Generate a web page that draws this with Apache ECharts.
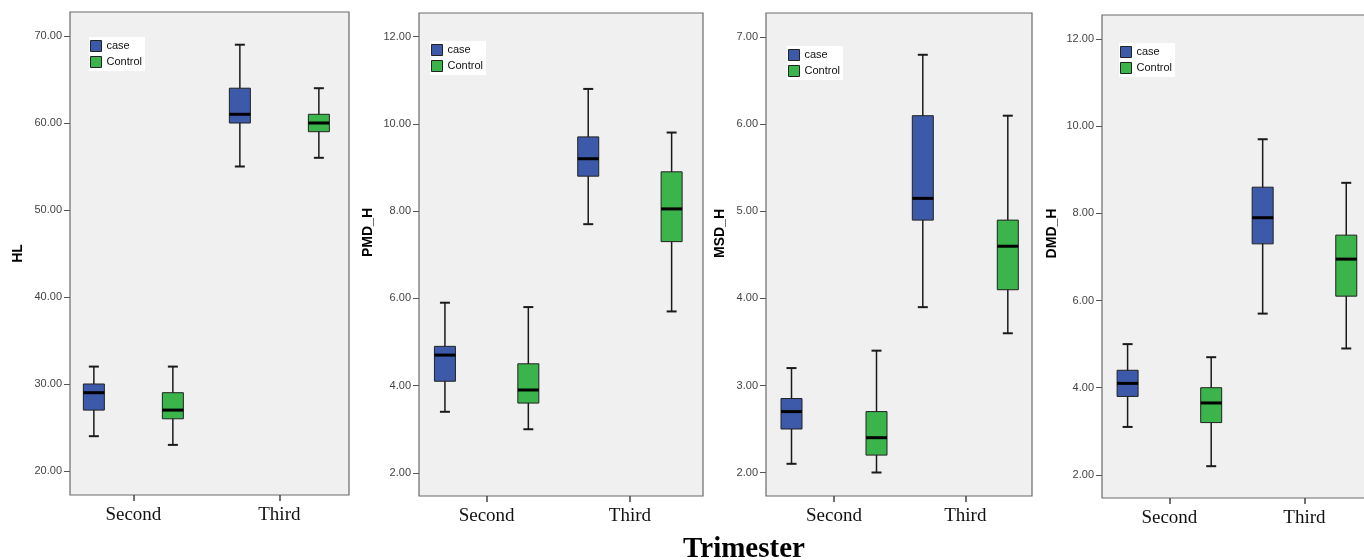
<!DOCTYPE html>
<html>
<head>
<meta charset="utf-8">
<script src="https://cdn.jsdelivr.net/npm/echarts@6/dist/echarts.min.js"></script>
<style>
  html, body { margin: 0; padding: 0; background: #fff; }
  #chart { width: 1364px; height: 560px; }
</style>
</head>
<body>
<div id="chart"></div>
<script>
// categories
const trimesters = ['Second', 'Third'];
const groups = ['case', 'Control'];

// box values per trimester: [min, Q1, median, Q3, max]
const hlCase = [[24, 27, 29, 30, 32], [55, 60, 61, 64, 69]];
const hlControl = [[23, 26, 27, 29, 32], [56, 59, 60, 61, 64]];
const pmdCase = [[3.4, 4.1, 4.7, 4.9, 5.9], [7.7, 8.8, 9.2, 9.7, 10.8]];
const pmdControl = [[3.0, 3.6, 3.9, 4.5, 5.8], [5.7, 7.3, 8.05, 8.9, 9.8]];
const msdCase = [[2.1, 2.5, 2.7, 2.85, 3.2], [3.9, 4.9, 5.15, 6.1, 6.8]];
const msdControl = [[2.0, 2.2, 2.4, 2.7, 3.4], [3.6, 4.1, 4.6, 4.9, 6.1]];
const dmdCase = [[3.1, 3.8, 4.1, 4.4, 5.0], [5.7, 7.3, 7.9, 8.6, 9.7]];
const dmdControl = [[2.2, 3.2, 3.65, 4.0, 4.7], [4.9, 6.1, 6.95, 7.5, 8.7]];

// tick labels
const hlTicks = [20, 30, 40, 50, 60, 70];
const pmdTicks = [2, 4, 6, 8, 10, 12];
const msdTicks = [2, 3, 4, 5, 6, 7];
const dmdTicks = [2, 4, 6, 8, 10, 12];

const caseColor = '#3d59a9';
const controlColor = '#3bb44b';
const sans = 'Liberation Sans, Arial, sans-serif';
const serif = 'Liberation Serif, Times New Roman, serif';

// layout of the four panels (positions are taken from the picture)
// the last panel runs past the right edge of the picture
const panels = [
  { name: 'HL', caseData: hlCase, controlData: hlControl, ticks: hlTicks,
    grid: { left: 70, top: 12, width: 279, height: 483 }, y: [17.24, 72.76], x: [0.566, 2.477],
    offset: 39.5, nameGap: 45, nameShift: 0, legend: { left: 89, top: 37 } },
  { name: 'PMD_H', caseData: pmdCase, controlData: pmdControl, ticks: pmdTicks,
    grid: { left: 419, top: 13, width: 284, height: 483 }, y: [1.47, 12.54], x: [0.528, 2.51],
    offset: 41.7, nameGap: 44, nameShift: 22, legend: { left: 430, top: 41 } },
  { name: 'MSD_H', caseData: msdCase, controlData: msdControl, ticks: msdTicks,
    grid: { left: 766, top: 13, width: 266, height: 483 }, y: [1.73, 7.28], x: [0.482, 2.508],
    offset: 42.5, nameGap: 39, nameShift: 21, legend: { left: 787, top: 46 } },
  { name: 'DMD_H', caseData: dmdCase, controlData: dmdControl, ticks: dmdTicks,
    grid: { left: 1102, top: 15, width: 270, height: 483 }, y: [1.47, 12.55], x: [0.501, 2.5],
    offset: 41.8, nameGap: 43, nameShift: 23, legend: { left: 1119, top: 43 } }
];

// draws one box-and-whisker through the axis scales
function renderBox(offset, color) {
  return function (params, api) {
    const x = api.value(0);
    const pts = [1, 2, 3, 4, 5].map(i => api.coord([x, api.value(i)]));
    const cx = pts[0][0] + offset;
    const [yMin, yQ1, yMed, yQ3, yMax] = pts.map(p => p[1]);
    const bw = 21, cw = 10;
    const ink = '#1a1a1a';
    return {
      type: 'group',
      children: [
        { type: 'line', shape: { x1: cx, y1: yMax, x2: cx, y2: yMin }, style: { stroke: ink, lineWidth: 1.5 } },
        { type: 'line', shape: { x1: cx - cw / 2, y1: yMax, x2: cx + cw / 2, y2: yMax }, style: { stroke: ink, lineWidth: 2 } },
        { type: 'line', shape: { x1: cx - cw / 2, y1: yMin, x2: cx + cw / 2, y2: yMin }, style: { stroke: ink, lineWidth: 2 } },
        { type: 'rect', shape: { x: cx - bw / 2, y: yQ3, width: bw, height: yQ1 - yQ3 }, style: { fill: color, stroke: '#222', lineWidth: 1 } },
        { type: 'line', shape: { x1: cx - bw / 2, y1: yMed, x2: cx + bw / 2, y2: yMed }, style: { stroke: '#000', lineWidth: 3 } }
      ]
    };
  };
}

const chart = echarts.init(document.getElementById('chart'));

const option = {
  animation: false,
  backgroundColor: '#fff',
  title: {
    text: 'Trimester',
    left: 739,
    top: 530,
    textAlign: 'center',
    textStyle: { fontFamily: serif, fontWeight: 'bold', fontSize: 29, color: '#000' }
  },
  legend: panels.map(p => ({
    data: groups,
    orient: 'vertical',
    left: p.legend.left,
    top: p.legend.top,
    backgroundColor: '#fff',
    padding: [3, 3, 3, 1],
    icon: 'rect',
    itemWidth: 11,
    itemHeight: 11,
    itemGap: 4,
    selectedMode: false,
    itemStyle: { borderColor: '#222', borderWidth: 1 },
    textStyle: { fontFamily: sans, fontSize: 11, color: '#111' }
  })),
  grid: panels.map(p => Object.assign({
    show: true, backgroundColor: '#f0f0f0', borderColor: '#6a6a6a', borderWidth: 1.2,
    outerBoundsMode: 'none'
  }, p.grid)),
  xAxis: panels.map((p, i) => ({
    type: 'value',
    gridIndex: i,
    min: p.x[0],
    max: p.x[1],
    axisLine: { show: false },
    splitLine: { show: false },
    axisTick: { show: true, customValues: [1, 2], length: 6, lineStyle: { color: '#444', width: 1.5 } },
    axisLabel: {
      customValues: [1, 2],
      formatter: v => trimesters[Math.round(v) - 1],
      margin: 11,
      fontFamily: serif,
      fontSize: 19,
      color: '#111'
    }
  })),
  yAxis: panels.map((p, i) => ({
    type: 'value',
    gridIndex: i,
    min: p.y[0],
    max: p.y[1],
    name: p.name,
    nameLocation: 'middle',
    nameGap: p.nameGap,
    nameTextStyle: {
      fontFamily: sans, fontWeight: 'bold', fontSize: 14, color: '#000',
      padding: [0, 0, 0, p.nameShift * 2]
    },
    axisLine: { show: false },
    splitLine: { show: false },
    axisTick: { show: true, customValues: p.ticks, length: 6, lineStyle: { color: '#555', width: 1 } },
    axisLabel: {
      customValues: p.ticks,
      formatter: v => v.toFixed(2),
      margin: 8,
      fontFamily: sans,
      fontSize: 11,
      color: '#444'
    }
  })),
  series: panels.flatMap((p, i) => [
    {
      type: 'custom',
      name: groups[0],
      xAxisIndex: i,
      yAxisIndex: i,
      itemStyle: { color: caseColor },
      encode: { x: 0, y: [1, 2, 3, 4, 5] },
      renderItem: renderBox(-p.offset, caseColor),
      data: p.caseData.map((v, j) => [j + 1].concat(v))
    },
    {
      type: 'custom',
      name: groups[1],
      xAxisIndex: i,
      yAxisIndex: i,
      itemStyle: { color: controlColor },
      encode: { x: 0, y: [1, 2, 3, 4, 5] },
      renderItem: renderBox(p.offset, controlColor),
      data: p.controlData.map((v, j) => [j + 1].concat(v))
    }
  ])
};

chart.setOption(option);
</script>
</body>
</html>
